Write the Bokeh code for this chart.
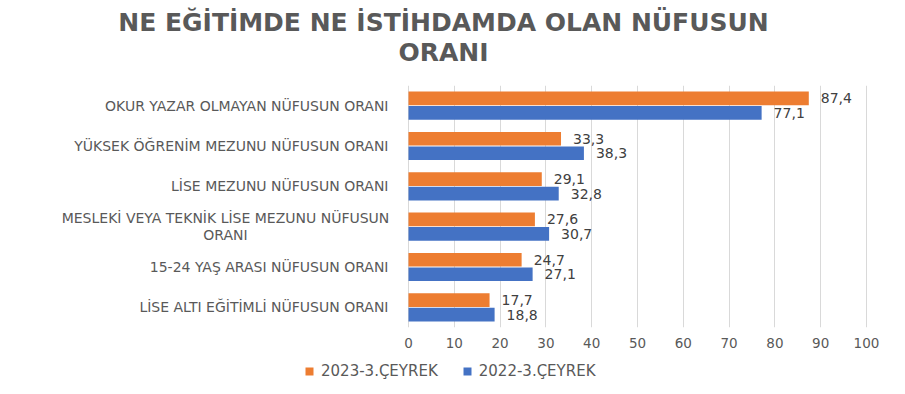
from bokeh.plotting import figure
from bokeh.models import (FactorRange, Range1d, Legend, LegendItem, Label,
                          FixedTicker, ColumnDataSource)
from bokeh.layouts import column
from bokeh.core.properties import value
from bokeh.transform import dodge
from bokeh.embed import file_html
from bokeh.resources import INLINE

categories = [
    "OKUR YAZAR OLMAYAN NÜFUSUN ORANI",
    "YÜKSEK ÖĞRENİM MEZUNU NÜFUSUN ORANI",
    "LİSE MEZUNU NÜFUSUN ORANI",
    "MESLEKİ VEYA TEKNİK LİSE MEZUNU NÜFUSUN\nORANI",
    "15-24 YAŞ ARASI NÜFUSUN ORANI",
    "LİSE ALTI EĞİTİMLİ NÜFUSUN ORANI",
]
series_2023 = [87.4, 33.3, 29.1, 27.6, 24.7, 17.7]
series_2022 = [77.1, 38.3, 32.8, 30.7, 27.1, 18.8]
series_names = ["2023-3.ÇEYREK", "2022-3.ÇEYREK"]
x_ticks = [0, 10, 20, 30, 40, 50, 60, 70, 80, 90, 100]
title_lines = ["NE EĞİTİMDE NE İSTİHDAMDA OLAN NÜFUSUN", "ORANI"]

ORANGE = "#ED7D31"
BLUE = "#4472C4"
GRAY = "#595959"
FONT = "DejaVu Sans"
W = 889

def fmt(v):
    return f"{v:.1f}".replace(".", ",")

# multi-line category label is centred, the others right-aligned
lab_align = ["center" if "\n" in c else "right" for c in categories]
lab_xoff = [-183 if "\n" in c else -20 for c in categories]

src = ColumnDataSource(dict(
    cat=categories,
    zero=[0] * len(categories),
    v23=series_2023,
    v22=series_2022,
    l23=[fmt(v) for v in series_2023],
    l22=[fmt(v) for v in series_2022],
    lab_align=lab_align,
    lab_xoff=lab_xoff,
))

# ---- title strip -------------------------------------------------------
HT = 85
t = figure(width=W, height=HT, output_backend="svg", toolbar_location=None,
           min_border=0, x_axis_type=None, y_axis_type=None,
           x_range=Range1d(0, W), y_range=Range1d(0, HT))
t.title = None
t.outline_line_color = None
t.xgrid.grid_line_color = None
t.ygrid.grid_line_color = None
for txt, yy in zip(title_lines, [63, 33]):
    t.add_layout(Label(x=443, y=yy, text=txt, text_align="center",
                       text_baseline="middle", text_font_size="25px",
                       text_font_style="bold", text_color=GRAY,
                       text_font=FONT))

# ---- main chart ----------------------------------------------------------
H1 = 268
p = figure(width=W, height=H1,
           y_range=FactorRange(*reversed(categories)),
           x_range=Range1d(-89.08, 105.02),
           output_backend="svg", toolbar_location=None,
           min_border_left=0, min_border_right=0,
           min_border_top=0, min_border_bottom=H1 - 242)
p.title = None
p.outline_line_color = None
p.background_fill_color = "white"
p.border_fill_color = "white"

r23 = p.hbar(y=dodge("cat", 0.18, range=p.y_range), right="v23", left=0,
             height=0.34, source=src, fill_color=ORANGE, line_color=None)
r22 = p.hbar(y=dodge("cat", -0.18, range=p.y_range), right="v22", left=0,
             height=0.34, source=src, fill_color=BLUE, line_color=None)

p.text(x="v23", y=dodge("cat", 0.18, range=p.y_range), text="l23", source=src,
       x_offset=12, text_baseline="middle", text_align="left",
       text_font_size="14px", text_color="#404040", text_font=value(FONT))
p.text(x="v22", y=dodge("cat", -0.18, range=p.y_range), text="l22", source=src,
       x_offset=12, text_baseline="middle", text_align="left",
       text_font_size="14px", text_color="#404040", text_font=value(FONT))

p.text(x="zero", y="cat", text="cat", source=src, x_offset="lab_xoff",
       text_baseline="middle", text_align="lab_align", text_font_size="14px",
       text_color=GRAY, text_font=value(FONT), text_line_height=1.1)

p.xaxis.ticker = FixedTicker(ticks=x_ticks)
p.xgrid.ticker = FixedTicker(ticks=x_ticks)
p.xgrid.grid_line_color = "#D9D9D9"
p.ygrid.grid_line_color = None
p.xaxis.axis_line_color = None
p.xaxis.major_tick_line_color = None
p.xaxis.minor_tick_line_color = None
p.xaxis.major_tick_out = 0
p.xaxis.major_label_standoff = 10
p.xaxis.major_label_text_font_size = "13.5px"
p.xaxis.major_label_text_color = GRAY
p.xaxis.major_label_text_font = FONT
p.yaxis.visible = False

# ---- legend strip ------------------------------------------------------
H2 = 386 - HT - H1
q = figure(width=W, height=H2, output_backend="svg", toolbar_location=None,
           min_border=0, x_axis_type=None, y_axis_type=None,
           x_range=Range1d(0, 1), y_range=Range1d(0, 1))
q.title = None
q.outline_line_color = None
q.xgrid.grid_line_color = None
q.ygrid.grid_line_color = None
g23 = q.hbar(y=0, left=0, right="v23", height=0, source=src,
             fill_color=ORANGE, line_color=None)
g22 = q.hbar(y=0, left=0, right="v22", height=0, source=src,
             fill_color=BLUE, line_color=None)
legend = Legend(items=[LegendItem(label=series_names[0], renderers=[g23]),
                       LegendItem(label=series_names[1], renderers=[g22])],
                orientation="horizontal", location=(304, 6),
                glyph_width=10, glyph_height=10, label_standoff=7,
                label_text_font_size="15px",
                label_text_color=GRAY, label_text_font=FONT, spacing=24,
                padding=2, margin=0,
                border_line_color=None, background_fill_alpha=0)
q.add_layout(legend, "center")

lay = column(t, p, q, spacing=0)
open("out.html", "w").write(file_html(lay, INLINE))
